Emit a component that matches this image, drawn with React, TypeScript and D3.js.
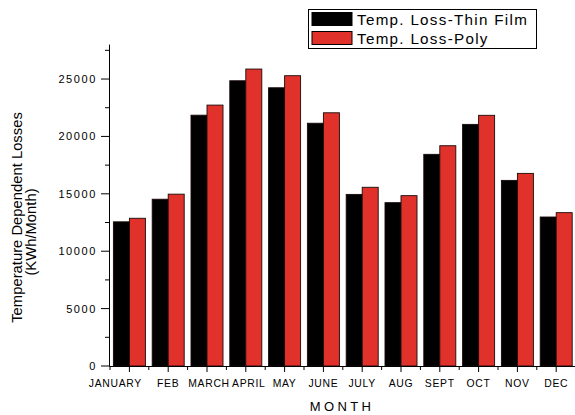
import React from "react";
import * as d3 from "d3";

const months = ["JANUARY", "FEB", "MARCH", "APRIL", "MAY", "JUNE", "JULY", "AUG", "SEPT", "OCT", "NOV", "DEC"];
const thinFilm = [12560, 14530, 21850, 24850, 24240, 21150, 14950, 14230, 18440, 21050, 16170, 12980];
const poly = [12870, 14970, 22730, 25870, 25290, 22060, 15570, 14840, 19190, 21840, 16780, 13360];
const seriesNames = ["Temp. Loss-Thin Film", "Temp. Loss-Poly"];
const seriesColors = ["#000000", "#E0322A"];
const majorTicks = [0, 5000, 10000, 15000, 20000, 25000];
const minorTicks = [2500, 7500, 12500, 17500, 22500, 27500];
const labelShift: Record<string, number> = { JANUARY: -14, MARCH: 2, APRIL: 3 };

const W = 575;
const H = 415;
const FONT = "'Liberation Sans', Arial, sans-serif";

export default function App() {
  const left = 110;
  const right = 575.6;
  const top = 44.6;
  const bottom = 366;

  const x = d3.scaleBand<string>().domain(months).range([left, right]).paddingInner(0.175).paddingOuter(0.0875);
  const sub = d3.scaleBand<number>().domain([0, 1]).range([0, x.bandwidth()]);
  const y = d3.scaleLinear().domain([0, 28000]).range([bottom, top]);

  const step = x.step();
  const boundaries = d3.range(months.length + 1).map((i) => left + i * step);
  const series = [thinFilm, poly];

  return (
    <svg width={W} height={H} style={{ position: "absolute", left: 0, top: 0, background: "#fff" }} fontFamily={FONT}>
      {/* bars */}
      {months.map((m, i) => (
        <g key={m}>
          {series.map((vals, s) => (
            <rect
              key={s}
              x={(x(m) as number) + (sub(s) as number)}
              y={y(vals[i])}
              width={sub.bandwidth()}
              height={bottom - y(vals[i])}
              fill={seriesColors[s]}
              stroke="#1a0a0a"
              strokeWidth={0.9}
            />
          ))}
        </g>
      ))}

      {/* y axis */}
      <line x1={left - 0.5} x2={left - 0.5} y1={top} y2={bottom} stroke="#000" strokeWidth={1} />
      {majorTicks.map((t) => (
        <g key={t}>
          <line x1={left - 9} x2={left} y1={y(t)} y2={y(t)} stroke="#000" strokeWidth={1} />
          <text x={left - 13} y={y(t)} dy="0.36em" textAnchor="end" fontSize={11} letterSpacing={1.6} fill="#000">
            {t}
          </text>
        </g>
      ))}
      {minorTicks.map((t) => (
        <line key={t} x1={left - 5} x2={left} y1={y(t)} y2={y(t)} stroke="#000" strokeWidth={1} />
      ))}

      {/* x axis */}
      <line x1={left - 0.5} x2={right} y1={bottom + 0.5} y2={bottom + 0.5} stroke="#000" strokeWidth={1} />
      {months.map((m) => {
        const cx = (x(m) as number) + x.bandwidth() / 2;
        return (
          <g key={m}>
            <line x1={cx} x2={cx} y1={bottom} y2={bottom + 6} stroke="#000" strokeWidth={1} />
            <text
              x={cx + (labelShift[m] || 0)}
              y={387}
              textAnchor="middle"
              fontSize={10.4}
              letterSpacing={0.7}
              fill="#000"
            >
              {m}
            </text>
          </g>
        );
      })}
      {boundaries.map((b, i) => (
        <line key={i} x1={b} x2={b} y1={bottom} y2={bottom + 4} stroke="#000" strokeWidth={1} />
      ))}

      {/* axis titles */}
      <text x={342} y={411} textAnchor="middle" fontSize={13} letterSpacing={3.4} fill="#000">
        MONTH
      </text>
      <text transform="translate(22,217.5) rotate(-90)" textAnchor="middle" fontSize={14.8} fill="#000">
        Temperature Dependent Losses
      </text>
      <text transform="translate(36,232) rotate(-90)" textAnchor="middle" fontSize={14.8} fill="#000">
        (KWh/Month)
      </text>

      {/* legend */}
      <rect x={308.5} y={9.5} width={228} height={39} fill="#fff" stroke="#000" strokeWidth={1} />
      {seriesNames.map((name, s) => (
        <g key={name}>
          <rect x={312} y={12.5 + s * 19} width={40} height={13} fill={seriesColors[s]} stroke="#000" strokeWidth={1} />
          <text x={357} y={25 + s * 18.5} fontSize={15.2} letterSpacing={1.3} fill="#000">
            {name}
          </text>
        </g>
      ))}
    </svg>
  );
}
